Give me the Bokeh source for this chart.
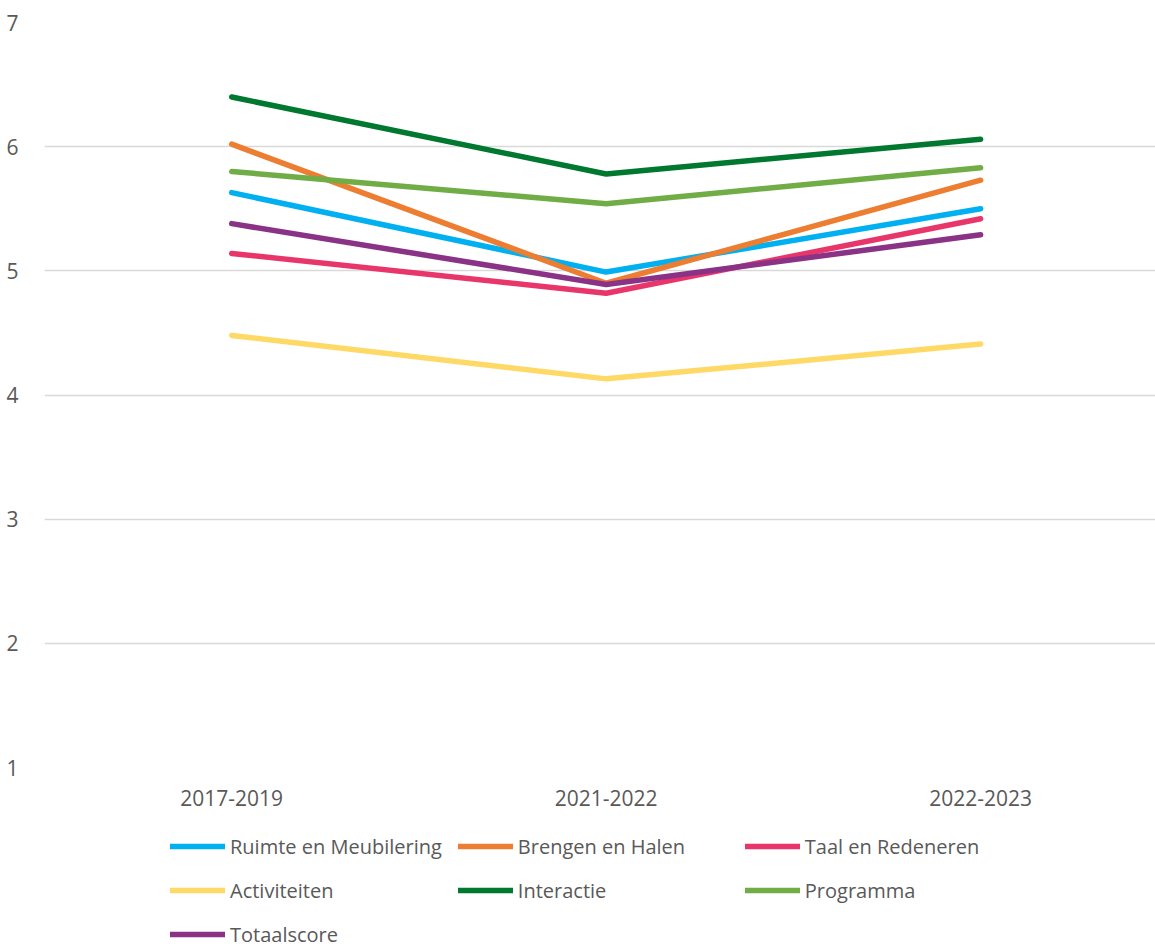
from bokeh.plotting import figure
from bokeh.models import Range1d, FixedTicker, Legend, LegendItem
from bokeh.layouts import column
from bokeh.embed import file_html
from bokeh.resources import INLINE

periods = ["2017-2019", "2021-2022", "2022-2023"]
ruimte = [5.63, 4.99, 5.50]
brengen = [6.02, 4.90, 5.73]
taal = [5.14, 4.82, 5.42]
activiteiten = [4.48, 4.13, 4.41]
interactie = [6.40, 5.78, 6.06]
programma = [5.80, 5.54, 5.83]
totaal = [5.38, 4.89, 5.29]

series = [
    ("Ruimte en Meubilering", ruimte, "#00B0F0"),
    ("Brengen en Halen", brengen, "#ED7D31"),
    ("Taal en Redeneren", taal, "#E8366B"),
    ("Activiteiten", activiteiten, "#FFD966"),
    ("Interactie", interactie, "#00782F"),
    ("Programma", programma, "#70AD47"),
    ("Totaalscore", totaal, "#8A3386"),
]

FONT = "Open Sans"
TXT = "#595959"
LW = 5.5

xs = list(range(len(periods)))

p = figure(width=1155, height=812, output_backend="svg", toolbar_location=None,
           x_range=Range1d(-0.5, 2.467), y_range=Range1d(1, 7),
           min_border_left=44, min_border_right=0, min_border_top=22,
           min_border_bottom=45)
p.outline_line_color = None
p.background_fill_color = "white"

p.xaxis.ticker = FixedTicker(ticks=xs)
p.xaxis.major_label_overrides = {i: s for i, s in enumerate(periods)}
p.yaxis.ticker = FixedTicker(ticks=[1, 2, 3, 4, 5, 6, 7])
for ax in (p.xaxis, p.yaxis):
    ax.axis_line_color = None
    ax.major_tick_line_color = None
    ax.minor_tick_line_color = None
    ax.major_label_text_font = FONT
    ax.major_label_text_font_size = "21px"
    ax.major_label_text_color = TXT
p.xaxis.major_label_standoff = 16
p.yaxis.major_label_standoff = 20

p.xgrid.grid_line_color = None
p.ygrid.ticker = FixedTicker(ticks=[1, 2, 3, 4, 5, 6, 7])
p.ygrid.grid_line_color = "#D9D9D9"
p.ygrid.grid_line_width = 1.5

for name, vals, col in series:
    p.line(xs, vals, line_color=col, line_width=LW, line_cap="round", line_join="round")

# legend panel below the chart (its own lines lie outside its visible range)
pl = figure(width=1155, height=137, output_backend="svg", toolbar_location=None,
            x_range=Range1d(10, 11), y_range=Range1d(10, 11),
            x_axis_type=None, y_axis_type=None,
            min_border_left=0, min_border_right=0, min_border_top=0, min_border_bottom=0)
pl.outline_line_color = None
pl.xgrid.visible = False
pl.ygrid.visible = False

items = []
for name, vals, col in series:
    r = pl.line(xs, vals, line_color=col, line_width=LW, line_cap="round")
    items.append(LegendItem(label=name, renderers=[r]))

leg = Legend(items=items, location=(126, 1), ncols=3, orientation="horizontal",
             glyph_width=55, glyph_height=28, label_height=28, label_width=211,
             label_standoff=5, spacing=16, padding=0, margin=0,
             border_line_color=None, background_fill_alpha=0,
             label_text_font=FONT, label_text_font_size="20px", label_text_color=TXT)
pl.add_layout(leg, "center")

layout = column(p, pl, spacing=0)
open("out.html", "w").write(file_html(layout, INLINE))
